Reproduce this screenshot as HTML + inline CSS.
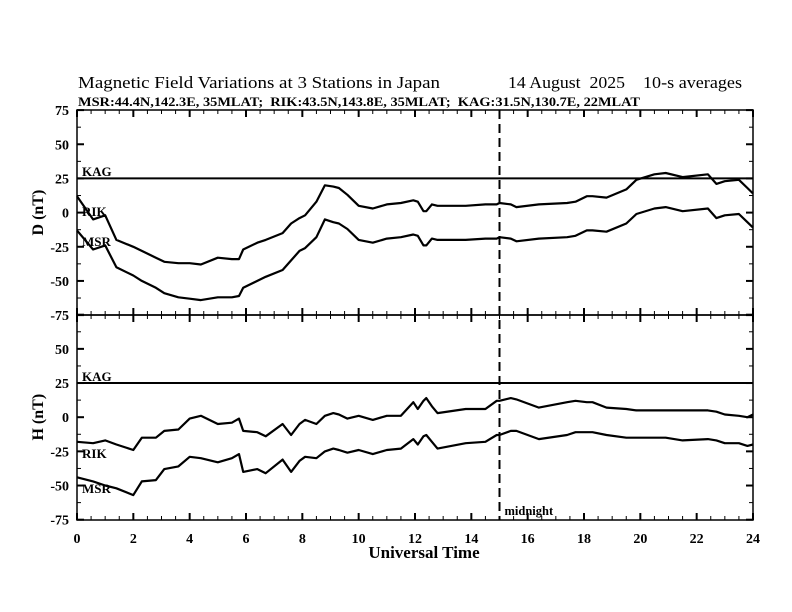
<!DOCTYPE html>
<html><head><meta charset="utf-8"><style>
body{margin:0;background:#fff}
svg{display:block;font-family:"Liberation Serif",serif}
</style></head><body>
<svg id="chart" width="792" height="612" viewBox="0 0 792 612" xmlns="http://www.w3.org/2000/svg">
<text x="78" y="88" font-size="17" textLength="362" lengthAdjust="spacingAndGlyphs">Magnetic Field Variations at 3 Stations in Japan</text>
<text x="508" y="88" font-size="17" textLength="117" lengthAdjust="spacingAndGlyphs" xml:space="preserve">14 August  2025</text>
<text x="643" y="88" font-size="17" textLength="99" lengthAdjust="spacingAndGlyphs">10-s averages</text>
<text x="78" y="106" font-size="12.5" font-weight="bold" textLength="562" lengthAdjust="spacingAndGlyphs" xml:space="preserve">MSR:44.4N,142.3E, 35MLAT;  RIK:43.5N,143.8E, 35MLAT;  KAG:31.5N,130.7E, 22MLAT</text>
<g id="plot"></g>
</svg>
<script>
const hours = [0,0.57,1.0,1.4,2.0,2.3,2.8,3.1,3.6,4.0,4.4,5.0,5.5,5.75,5.9,6.4,6.7,7.3,7.6,7.9,8.1,8.5,8.8,9.1,9.3,9.6,10.0,10.5,11.0,11.5,11.94,12.1,12.3,12.4,12.6,12.8,13.8,14.5,14.9,15.0,15.4,15.6,16.4,17.4,17.7,18.1,18.3,18.8,19.5,19.86,20.5,20.9,21.5,22.4,22.7,23.0,23.5,23.8,24.0];
const rikD = [12,-5,-2,-20,-25,-28,-33,-36,-37,-37,-38,-33,-34,-34,-27,-22,-20,-15,-8,-4,-2,8,20,19,18,13,5,3,6,7,9,8,1,1,6,5,5,6,6,7,6,4,6,7,8,12,12,11,17,24,28,29,26,28,21,23,24,18,14];
const msrD = [-13,-27,-24,-40,-46,-50,-55,-59,-62,-63,-64,-62,-62,-61,-55,-50,-47,-42,-35,-28,-26,-18,-5,-7,-8,-12,-20,-22,-19,-18,-16,-17,-24,-24,-19,-20,-20,-19,-19,-18,-19,-21,-19,-18,-17,-13,-13,-14,-8,-1,3,4,1,3,-4,-2,-1,-7,-11];
const rikH = [-18,-19,-17,-20,-24,-15,-15,-10,-9,-1,1,-5,-4,-1,-10,-11,-14,-5,-13,-5,-2,-5,1,3,2,-1,1,-2,1,1,11,6,12,14,8,3,6,6,12,12,14,13,7,11,12,11,11,7,6,5,5,5,5,5,4,2,1,0,2];
const msrH = [-44,-47,-50,-52,-57,-47,-46,-38,-36,-29,-30,-33,-30,-27,-40,-38,-41,-31,-40,-32,-29,-30,-25,-23,-24,-26,-24,-27,-24,-23,-16,-20,-14,-13,-18,-23,-19,-18,-13,-13,-10,-10,-16,-13,-11,-11,-11,-13,-15,-15,-15,-15,-17,-16,-17,-19,-19,-21,-20];
const kagLevel = [25];
const yTicks = [75,50,25,0,-25,-50,-75];
const xTicks = [0,2,4,6,8,10,12,14,16,18,20,22,24];
const midnightHour = [15];

const NS = "http://www.w3.org/2000/svg";
const g = document.getElementById('plot');
const X0=77, X1=753;
const xs = h => X0 + (h/24)*(X1-X0);
const panels = [{top:110,bot:315,zero:212.6,name:'d'},{top:315,bot:520,zero:417.2,name:'h'}];
const ys = (p,v) => p.zero - v*(p.bot-p.top)/150;
function el(tag, attrs){const e=document.createElementNS(NS,tag);for(const k in attrs)e.setAttribute(k,attrs[k]);g.appendChild(e);return e;}

panels.forEach((p,pi)=>{
  const r = el('rect',{x:X0,y:p.top,width:X1-X0,height:p.bot-p.top,fill:'none',stroke:'#000','stroke-width':1.5});
  
  
  for(let h=0;h<=24;h+=0.5){
    const major = h%2===0; const len = major?7:4;
    [[p.top,1],[p.bot,-1]].forEach(([y,d])=>{
      const t=el('line',{x1:xs(h),x2:xs(h),y1:y,y2:y+d*len,stroke:'#000','stroke-width':major?2:1});
      
      
    });
  }
  for(let v=-75;v<=75;v+=12.5){
    const major = v%25===0; const len = major?7:4;
    [[X0,1],[X1,-1]].forEach(([x,d])=>{
      const t=el('line',{x1:x,x2:x+d*len,y1:ys(p,v),y2:ys(p,v),stroke:'#000','stroke-width':major?2:1});
      
      
    });
  }
  yTicks.forEach(v=>{
    if(pi===1 && v===75) return;
    const t=el('text',{x:69,y:ys(p,v)+5,'font-size':14,'font-weight':'bold','text-anchor':'end'});
    t.textContent=v;
    
    
  });
  const kl=el('line',{x1:X0,x2:X1,y1:ys(p,kagLevel[0]),y2:ys(p,kagLevel[0]),stroke:'#000','stroke-width':2});
  
  
  const series = pi===0 ? [[rikD,'rik'],[msrD,'msr']] : [[rikH,'rik'],[msrH,'msr']];
  series.forEach(([arr,nm])=>{
    const pts = hours.map((h,i)=>xs(h).toFixed(1)+','+ys(p,arr[i]).toFixed(1)).join(' ');
    const pl=el('polyline',{points:pts,fill:'none',stroke:'#000','stroke-width':2.2,'stroke-linejoin':'round'});
    
    
  });
});
[['KAG',82,176],['RIK',82,216],['MSR',82,246],['KAG',82,381],['RIK',82,458],['MSR',82,493]].forEach(([s,x,y])=>{
  const t=el('text',{x:x,y:y,'font-size':13,'font-weight':'bold'});
  t.textContent=s;
  
  
});
const ml=el('line',{x1:xs(midnightHour[0]),x2:xs(midnightHour[0]),y1:110,y2:520,stroke:'#000','stroke-width':2,'stroke-dasharray':'9,5'});


const mt=el('text',{x:xs(midnightHour[0])+5,y:515,'font-size':12.5,'font-weight':'bold'});
mt.textContent='midnight';


xTicks.forEach(h=>{
  const t=el('text',{x:xs(h),y:543,'font-size':14,'font-weight':'bold','text-anchor':'middle'});
  t.textContent=h;
  
  
});
const xt=el('text',{x:424,y:558,'font-size':17,'font-weight':'bold','text-anchor':'middle'});
xt.textContent='Universal Time';


[['D (nT)',212.6,'d'],['H (nT)',417.2,'h']].forEach(([s,y,n])=>{
  const t=el('text',{x:0,y:0,'font-size':16,'font-weight':'bold','text-anchor':'middle',transform:'translate(43,'+y+') rotate(-90)'});
  t.textContent=s;
  
  
});
</script>
</body></html>
